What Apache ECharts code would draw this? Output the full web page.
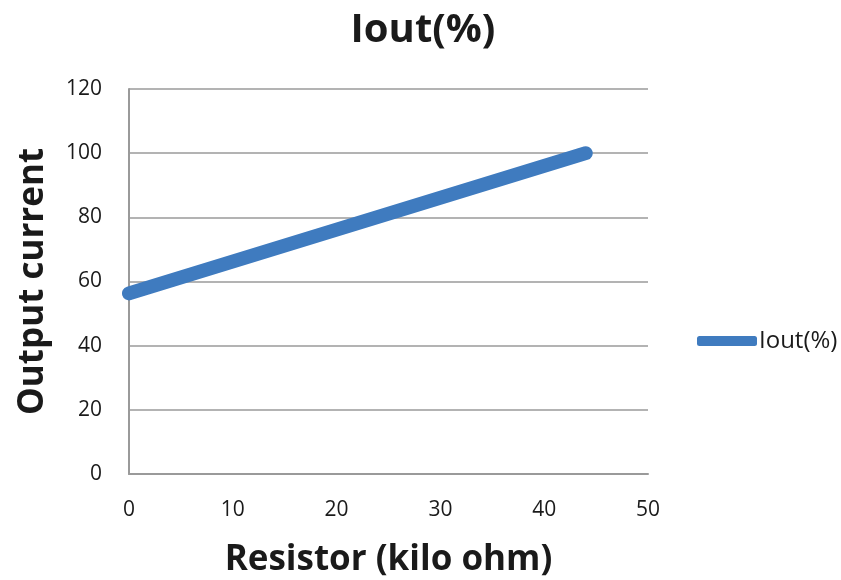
<!DOCTYPE html>
<html><head><meta charset="utf-8">
<script src="https://cdn.jsdelivr.net/npm/echarts@6/dist/echarts.min.js"></script>
<style>html,body{margin:0;padding:0;background:#fff}#c{width:841px;height:580px}</style>
</head><body><div id="c"></div>
<script>
const seriesName = 'Iout(%)';
const resistor = [0, 44];
const iout = [56.3, 100];
const xTicks = [0, 10, 20, 30, 40, 50];
const yTicks = [0, 20, 40, 60, 80, 100, 120];

const FONT = '"Open Sans", sans-serif';
const chart = echarts.init(document.getElementById('c'), null, {renderer: 'canvas'});
chart.setOption({
  animation: false,
  title: {text: 'Iout(%)', left: 418, top: 6, textAlign: 'center',
    textStyle: {fontFamily: FONT, fontWeight: 'bold', fontSize: 40, color: '#1a1a1a'}},
  grid: {left: 129, right: 193, top: 89, bottom: 106, containLabel: false, outerBoundsMode: 'none'},
  legend: {show: true, orient: 'vertical', left: 692, top: 324, itemWidth: 60, itemHeight: 10,
    itemGap: 2, icon: 'roundRect',
    textStyle: {fontFamily: FONT, fontSize: 24, color: '#1a1a1a', padding: [0,0,0,-3]},
    data: [{name: seriesName, itemStyle: {color: '#3f7bbf'}}]},
  xAxis: {type: 'value', min: 0, max: 50, interval: 10,
    name: 'Resistor (kilo ohm)', nameLocation: 'middle', nameGap: 69,
    nameTextStyle: {fontFamily: FONT, fontWeight: 'bold', fontSize: 35, color: '#1a1a1a'},
    axisLine: {show: true, lineStyle: {color: '#9a9a9a', width: 2}},
    axisTick: {show: false}, splitLine: {show: false},
    axisLabel: {fontFamily: FONT, fontSize: 21, color: '#1a1a1a', margin: 26,
      formatter: v => xTicks.includes(v) ? String(v) : ''}},
  yAxis: {type: 'value', min: 0, max: 120, interval: 20,
    name: 'Output current', nameLocation: 'middle', nameGap: 78, nameRotate: 90,
    nameTextStyle: {fontFamily: FONT, fontWeight: 'bold', fontSize: 35, color: '#1a1a1a'},
    axisLine: {show: true, lineStyle: {color: '#9a9a9a', width: 2}},
    axisTick: {show: false},
    splitLine: {show: true, lineStyle: {color: '#9a9a9a', width: 1.5}},
    axisLabel: {fontFamily: FONT, fontSize: 21, color: '#1a1a1a', margin: 27,
      formatter: v => yTicks.includes(v) ? String(v) : ''}},
  series: [{name: seriesName, type: 'line', showSymbol: false, symbol: 'none',
    data: resistor.map((r, i) => [r, iout[i]]),
    lineStyle: {color: '#3f7bbf', width: 14, cap: 'round', join: 'round'},
    itemStyle: {color: '#3f7bbf'}}]
});
</script></body></html>
